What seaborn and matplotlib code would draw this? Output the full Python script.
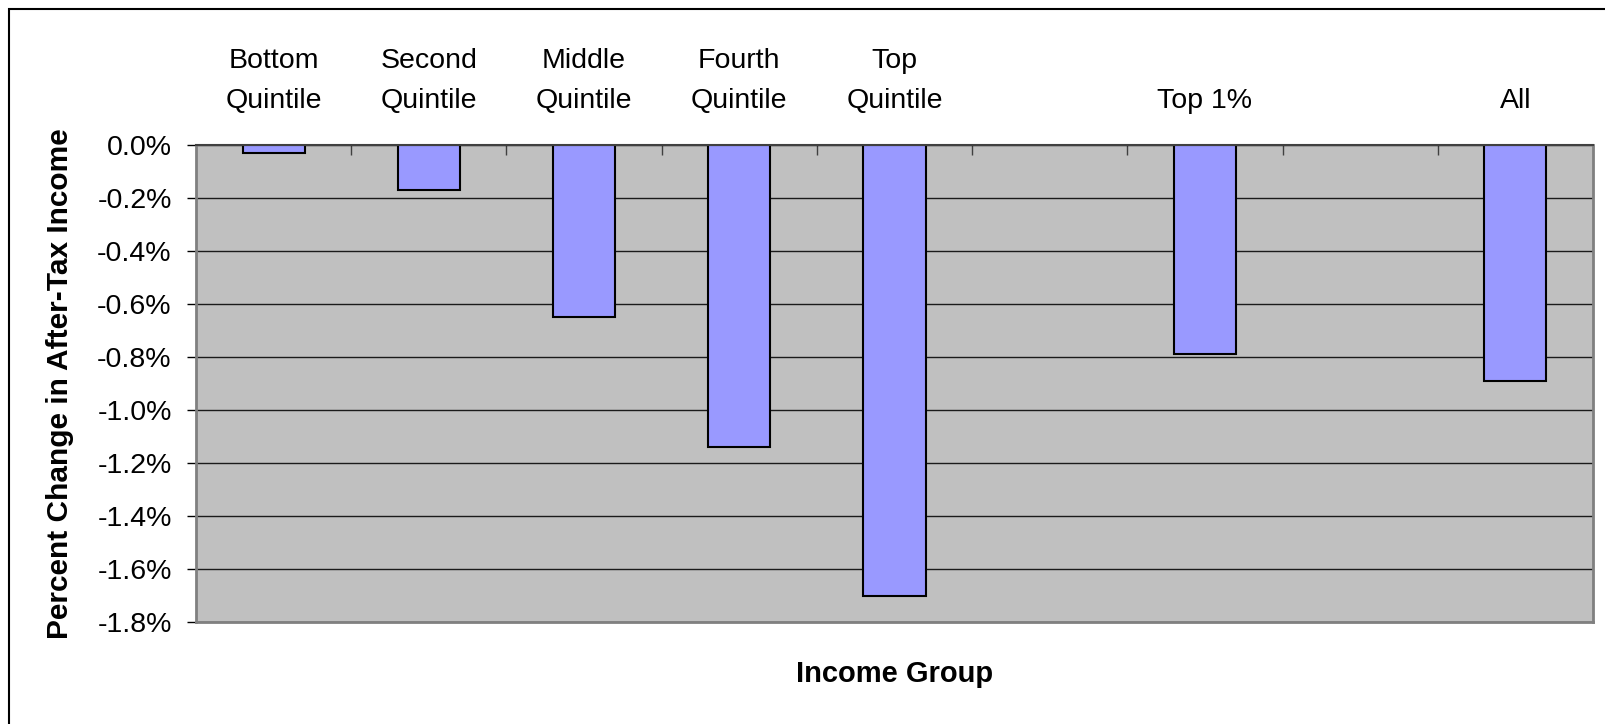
import matplotlib
matplotlib.use("Agg")
import matplotlib.pyplot as plt
import matplotlib.patches as mpatches
from matplotlib.ticker import FixedLocator, FuncFormatter
import seaborn as sns
import pandas as pd

# ---- data ----
categories = ["Bottom\nQuintile", "Second\nQuintile", "Middle\nQuintile",
              "Fourth\nQuintile", "Top\nQuintile", "Top 1%", "All"]
values = [-0.03, -0.17, -0.65, -1.14, -1.70, -0.79, -0.89]
slot_order = ["Bottom\nQuintile", "Second\nQuintile", "Middle\nQuintile",
              "Fourth\nQuintile", "Top\nQuintile", "_gap1", "Top 1%", "_gap2", "All"]
slot_labels = ["Bottom\nQuintile", "Second\nQuintile", "Middle\nQuintile",
               "Fourth\nQuintile", "Top\nQuintile", "", "Top 1%", "", "All"]
y_ticks = [0.0, -0.2, -0.4, -0.6, -0.8, -1.0, -1.2, -1.4, -1.6, -1.8]
x_title = "Income Group"
y_title = "Percent Change in After-Tax Income"

sns.set_style("white")
plt.rcParams["font.family"] = ["Liberation Sans", "DejaVu Sans"]
plt.rcParams["text.color"] = "black"
plt.rcParams["axes.labelcolor"] = "black"
plt.rcParams["xtick.color"] = "black"
plt.rcParams["ytick.color"] = "black"

FS = 20.5

df = pd.DataFrame({"group": categories, "change": values})

fig = plt.figure(figsize=(16.06, 7.24), dpi=100)
W, H = 1606, 724
ax = fig.add_axes([196 / W, 1 - 622 / H, (1593 - 196) / W, (622 - 145) / H])

sns.barplot(data=df, x="group", y="change", order=slot_order, ax=ax,
            color="#9999FF", width=0.4, edgecolor="black", linewidth=1.5,
            saturation=1, errorbar=None)

ax.set_facecolor("#C0C0C0")
ax.set_xlim(-0.5, len(slot_order) - 0.5)
ax.set_ylim(-1.8, 0)
ax.set_axisbelow(True)
ax.yaxis.grid(True, color="#1a1a1a", linewidth=1.0)
ax.xaxis.grid(False)

# y axis
ax.yaxis.set_major_locator(FixedLocator(y_ticks))
ax.yaxis.set_major_formatter(FuncFormatter(lambda v, p: f"{v:.1f}%"))
ax.tick_params(axis="y", which="major", direction="out", length=6.5, width=1,
               color="black", labelcolor="black", labelsize=FS, pad=11, left=True)

# x axis on top (at zero)
ax.xaxis.set_ticks_position("top")
ax.xaxis.set_label_position("bottom")
ax.xaxis.set_major_locator(FixedLocator([i + 0.5 for i in range(len(slot_order) - 1)]))
ax.xaxis.set_minor_locator(FixedLocator(list(range(len(slot_order)))))
ax.set_xticklabels([], minor=False)
ax.set_xticklabels(slot_labels, minor=True, fontsize=FS, linespacing=1.72, color="black")
ax.tick_params(axis="x", which="major", direction="in", length=7, width=1,
               color="#404040", top=True, bottom=False, labeltop=False, labelbottom=False)
ax.tick_params(axis="x", which="minor", length=0, top=True, bottom=False,
               labeltop=True, labelbottom=False, pad=22)

for side in ["left", "right", "bottom"]:
    ax.spines[side].set_color("#808080")
    ax.spines[side].set_linewidth(2)
ax.spines["top"].set_color("#404040")
ax.spines["top"].set_linewidth(1.5)

ax.set_xlabel(x_title, fontsize=FS + 0.5, fontweight="bold", color="black", labelpad=0)
ax.xaxis.set_label_coords(0.5, -(674 - 622) / (622 - 145), transform=ax.transAxes)
ax.xaxis.label.set_va("center")
ax.set_ylabel(y_title, fontsize=FS + 1, fontweight="bold", color="black")
ax.yaxis.set_label_coords(-(196 - 74) / (1593 - 196), 0.5)

# outer chart frame
frame = mpatches.Rectangle((9 / W, -0.2), 1.2, 1 - 9 / H + 0.2, transform=fig.transFigure,
                           fill=False, edgecolor="black", linewidth=1.5, clip_on=False)
fig.patches.append(frame)

fig.savefig("out.png", dpi=100, facecolor="white")
